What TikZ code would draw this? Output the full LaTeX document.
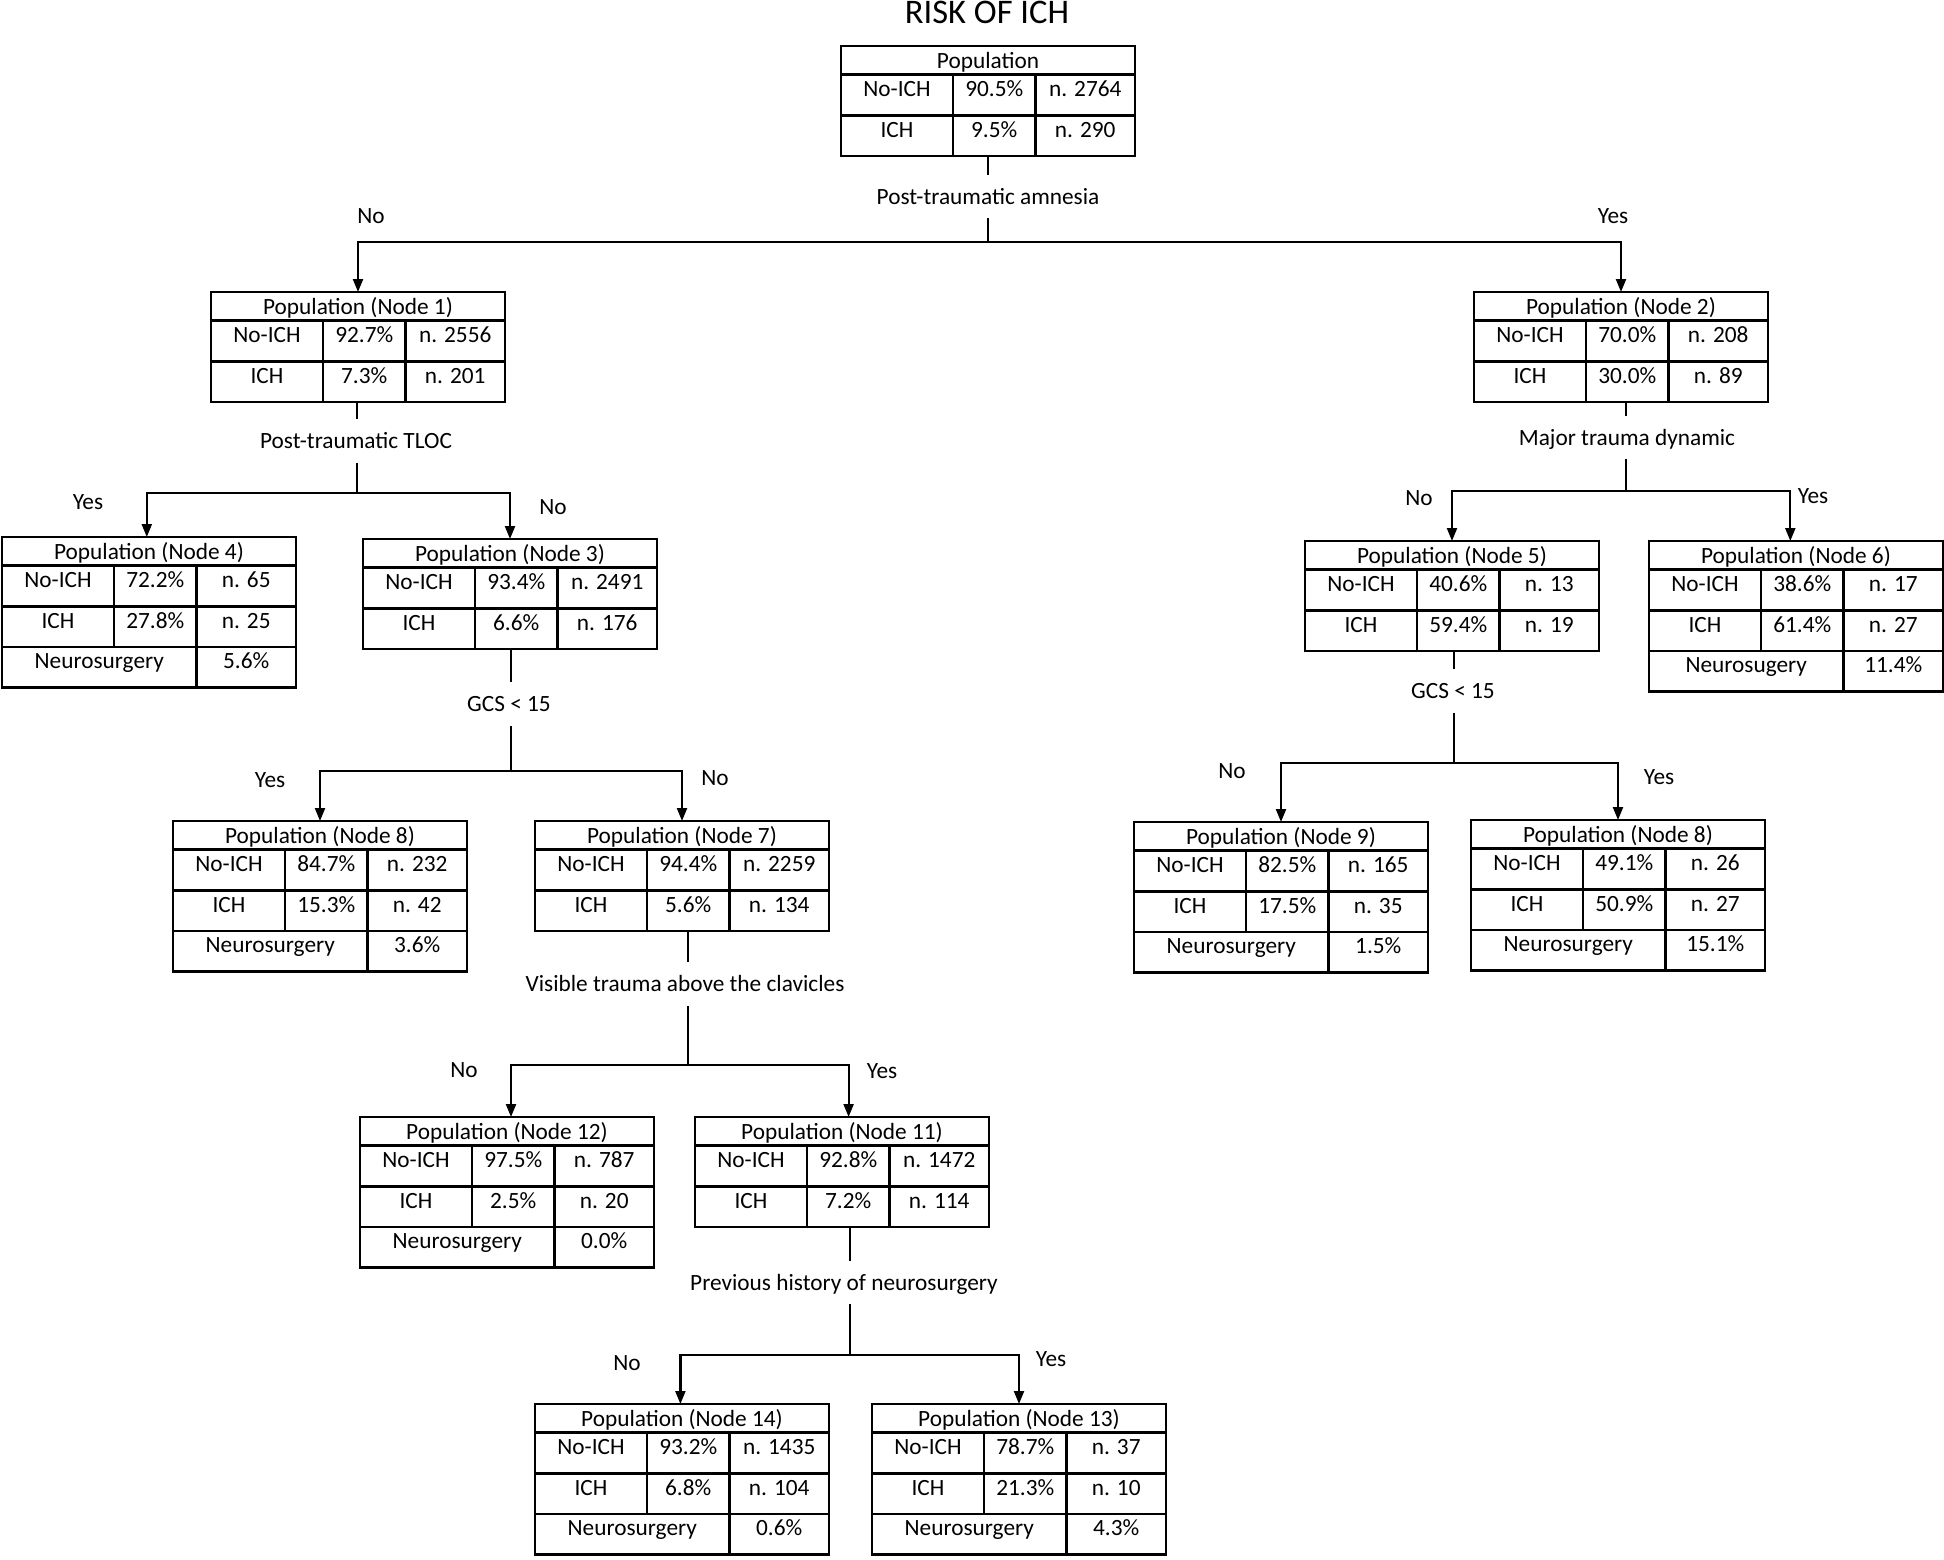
\documentclass[tikz,border=0pt]{standalone}
\usepackage{fontspec}
\setmainfont{Carlito}
\usetikzlibrary{arrows.meta}
\tikzset{
  tbox/.style={draw, line width=1.3pt, minimum width=147pt, inner sep=0pt, outer sep=0pt},
  grid/.style={line width=1.3pt},
  cell/.style={anchor=base, inner sep=0pt, font=\fontsize{11.65pt}{14pt}\selectfont},
  lbl/.style={anchor=base, inner xsep=0pt, inner ysep=7pt, text height=7.5pt, text depth=0pt, font=\fontsize{11.65pt}{14pt}\selectfont},
  yn/.style={anchor=base, inner sep=0pt, font=\fontsize{11.65pt}{14pt}\selectfont},
  conn/.style={line width=1.1pt},
  arr/.style={line width=1.1pt, -{Triangle[width=5pt,length=6.5pt]}},
}
% #1 name, #2 left, #3 top, #4 header, #5 p1, #6 n1, #7 p2, #8 n2
\newcommand\poptable[8]{%
  \node[tbox, minimum height=54.95pt, anchor=north west] (#1) at (#2,#3) {};
  \draw[grid] ([yshift=-14.25pt]#1.north west) -- ([yshift=-14.25pt]#1.north east);
  \draw[grid] ([yshift=-34.6pt]#1.north west) -- ([yshift=-34.6pt]#1.north east);
  \draw[grid] ([xshift=56pt,yshift=-14.25pt]#1.north west) -- ([xshift=56pt]#1.south west);
  \draw[grid] ([xshift=97.25pt,yshift=-14.25pt]#1.north west) -- ([xshift=97.25pt]#1.south west);
  \node[cell] (#1-h) at ([yshift=-11pt]#1.north) {#4};
  \node[cell] (#1-a) at ([xshift=28pt,yshift=-25.25pt]#1.north west) {No-ICH};
  \node[cell] (#1-b) at ([xshift=76.625pt,yshift=-25.25pt]#1.north west) {#5};
  \node[cell] (#1-c) at ([xshift=122.125pt,yshift=-25.25pt]#1.north west) {#6};
  \node[cell] (#1-d) at ([xshift=28pt,yshift=-45.6pt]#1.north west) {ICH};
  \node[cell] (#1-e) at ([xshift=76.625pt,yshift=-45.6pt]#1.north west) {#7};
  \node[cell] (#1-f) at ([xshift=122.125pt,yshift=-45.6pt]#1.north west) {#8};
}
% #1 name, #2 label, #3 value
\newcommand\neurorow[3]{%
  \node[tbox, minimum height=20.35pt, anchor=north west] (#1-nr) at (#1.south west) {};
  \draw[grid] ([xshift=97.25pt]#1-nr.north west) -- ([xshift=97.25pt]#1-nr.south west);
  \node[cell] (#1-nl) at ([xshift=48.625pt,yshift=-11pt]#1-nr.north west) {#2};
  \node[cell] (#1-nv) at ([xshift=122.125pt,yshift=-11pt]#1-nr.north west) {#3};
}
\begin{document}
\begin{tikzpicture}[x=0.5pt,y=-0.5pt]
\useasboundingbox (0,0) rectangle (1944,1559);

\node[anchor=base, inner sep=0pt, font=\fontsize{17.25pt}{20pt}\selectfont] (title) at (987,23) {RISK OF ICH};

\poptable{N0}{841}{46}{Population}{90.5\%}{n. 2764}{9.5\%}{n. 290}
\poptable{N1}{211}{292}{Population (Node 1)}{92.7\%}{n. 2556}{7.3\%}{n. 201}
\poptable{N2}{1474}{292}{Population (Node 2)}{70.0\%}{n. 208}{30.0\%}{n. 89}
\poptable{N4}{2}{537}{Population (Node 4)}{72.2\%}{n. 65}{27.8\%}{n. 25}
\neurorow{N4}{Neurosurgery}{5.6\%}
\poptable{N3}{363}{539}{Population (Node 3)}{93.4\%}{n. 2491}{6.6\%}{n. 176}
\poptable{N5}{1305}{541}{Population (Node 5)}{40.6\%}{n. 13}{59.4\%}{n. 19}
\poptable{N6}{1649}{541}{Population (Node 6)}{38.6\%}{n. 17}{61.4\%}{n. 27}
\neurorow{N6}{Neurosugery}{11.4\%}
\poptable{N8L}{173}{821}{Population (Node 8)}{84.7\%}{n. 232}{15.3\%}{n. 42}
\neurorow{N8L}{Neurosurgery}{3.6\%}
\poptable{N7}{535}{821}{Population (Node 7)}{94.4\%}{n. 2259}{5.6\%}{n. 134}
\poptable{N9}{1134}{822}{Population (Node 9)}{82.5\%}{n. 165}{17.5\%}{n. 35}
\neurorow{N9}{Neurosurgery}{1.5\%}
\poptable{N8R}{1471}{820}{Population (Node 8)}{49.1\%}{n. 26}{50.9\%}{n. 27}
\neurorow{N8R}{Neurosurgery}{15.1\%}
\poptable{N12}{360}{1117}{Population (Node 12)}{97.5\%}{n. 787}{2.5\%}{n. 20}
\neurorow{N12}{Neurosurgery}{0.0\%}
\poptable{N11}{695}{1117}{Population (Node 11)}{92.8\%}{n. 1472}{7.2\%}{n. 114}
\poptable{N14}{535}{1404}{Population (Node 14)}{93.2\%}{n. 1435}{6.8\%}{n. 104}
\neurorow{N14}{Neurosurgery}{0.6\%}
\poptable{N13}{872}{1404}{Population (Node 13)}{78.7\%}{n. 37}{21.3\%}{n. 10}
\neurorow{N13}{Neurosurgery}{4.3\%}

% split labels
\node[lbl] (amn) at (988,204) {Post-traumatic amnesia};
\node[lbl] (tloc) at (356,448.3) {Post-traumatic TLOC};
\node[lbl] (maj) at (1627,445) {Major trauma dynamic};
\node[lbl] (gcsL) at (509,711.7) {GCS < 15};
\node[lbl] (gcsR) at (1453,698.3) {GCS < 15};
\node[lbl] (vis) at (685,991.7) {Visible trauma above the clavicles};
\node[lbl] (prev) at (844,1290) {Previous history of neurosurgery};

% branch points
\coordinate (s0) at (988,242);
\coordinate (s1) at (357,493);
\coordinate (s2) at (1626,491);
\coordinate (s3) at (511,771);
\coordinate (s4) at (1454,763.3);
\coordinate (s5) at (688,1065);
\coordinate (s6) at (850,1355);

% stems
\draw[conn] (N0.south -| s0) -- (amn.north -| s0);
\draw[conn] (amn.south -| s0) -- (s0);
\draw[conn] (N1.south -| s1) -- (tloc.north -| s1);
\draw[conn] (tloc.south -| s1) -- (s1);
\draw[conn] (N2.south -| s2) -- (maj.north -| s2);
\draw[conn] (maj.south -| s2) -- (s2);
\draw[conn] (N3.south -| s3) -- (gcsL.north -| s3);
\draw[conn] (gcsL.south -| s3) -- (s3);
\draw[conn] (N5.south -| s4) -- (gcsR.north -| s4);
\draw[conn] (gcsR.south -| s4) -- (s4);
\draw[conn] (N7.south -| s5) -- (vis.north -| s5);
\draw[conn] (vis.south -| s5) -- (s5);
\draw[conn] (N11.south -| s6) -- (prev.north -| s6);
\draw[conn] (prev.south -| s6) -- (s6);

% branches
\draw[arr] (s0) -| (N1.north);
\draw[arr] (s0) -| (N2.north);
\draw[arr] (s1) -| ([xshift=-1.1pt]N4.north);
\draw[arr] (s1) -| (N3.north);
\draw[arr] (s2) -| (N5.north);
\draw[arr] (s2) -| ([xshift=-2.85pt]N6.north);
\draw[arr] (s3) -| (N8L.north);
\draw[arr] (s3) -| (N7.north);
\draw[arr] (s4) -| (N9.north);
\draw[arr] (s4) -| (N8R.north);
\draw[arr] (s5) -| ([xshift=2pt]N12.north);
\draw[arr] (s5) -| ([xshift=3.3pt]N11.north);
\draw[arr] (s6) -| ([xshift=-0.8pt]N14.north);
\draw[arr] (s6) -| (N13.north);

% yes / no labels
\node[yn] (no0) at (371,223) {No};
\node[yn] (yes0) at (1613,223) {Yes};
\node[yn] (yes1) at (88,509) {Yes};
\node[yn] (no1) at (553,514) {No};
\node[yn] (no2) at (1419,505) {No};
\node[yn] (yes2) at (1813,503) {Yes};
\node[yn] (yes3) at (270,787) {Yes};
\node[yn] (no3) at (715,785) {No};
\node[yn] (no4) at (1232,778) {No};
\node[yn] (yes4) at (1659,784) {Yes};
\node[yn] (no5) at (464,1077) {No};
\node[yn] (yes5) at (882,1078) {Yes};
\node[yn] (no6) at (627,1370) {No};
\node[yn] (yes6) at (1051,1366) {Yes};
\end{tikzpicture}
\end{document}
